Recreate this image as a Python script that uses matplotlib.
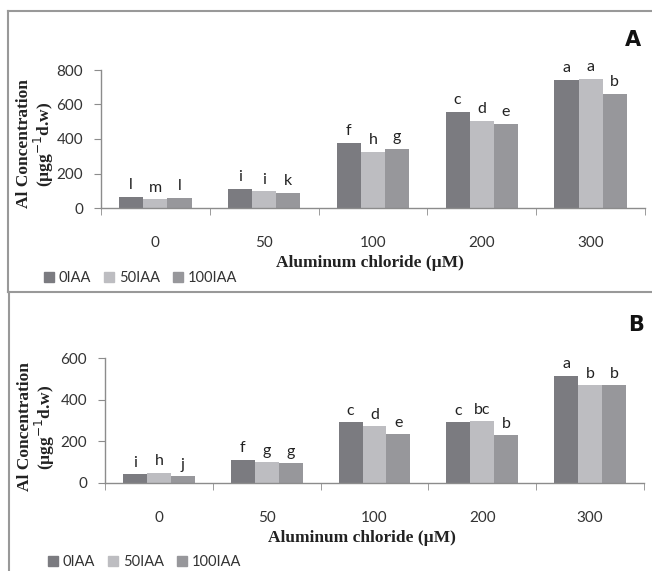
import matplotlib
matplotlib.use("Agg")
import matplotlib.pyplot as plt
import numpy as np
from matplotlib.patches import Rectangle
from matplotlib.lines import Line2D

categories = ["0", "50", "100", "200", "300"]
series = ["0IAA", "50IAA", "100IAA"]
colors = ["#7b7b80", "#bdbdc1", "#97979b"]

a_0iaa = [62, 111, 376, 555, 742]
a_50iaa = [50, 96, 326, 503, 746]
a_100iaa = [57, 87, 341, 488, 659]
a_letters = [["l", "i", "f", "c", "a"],
             ["m", "i", "h", "d", "a"],
             ["l", "k", "g", "e", "b"]]

b_0iaa = [43, 111, 291, 291, 515]
b_50iaa = [50, 100, 273, 298, 470]
b_100iaa = [34, 95, 235, 230, 470]
b_letters = [["i", "f", "c", "c", "a"],
             ["h", "g", "d", "bc", "b"],
             ["j", "g", "e", "b", "b"]]

a_ticks = [0, 200, 400, 600, 800]
b_ticks = [0, 200, 400, 600]

SANS = "Lato"
SERIF = "Liberation Serif"
axis_gray = "#8c8c8c"

fig = plt.figure(figsize=(6.52, 5.71), dpi=100)

# panel borders
fig.add_artist(Line2D([8/652, 8/652], [1-11/571, 1-292/571], transform=fig.transFigure, color="#999999", lw=1.5))
fig.add_artist(Line2D([8/652, 1.0], [1-11/571, 1-11/571], transform=fig.transFigure, color="#999999", lw=1.5))
fig.add_artist(Line2D([8/652, 1.0], [1-292/571, 1-292/571], transform=fig.transFigure, color="#999999", lw=1.5))
fig.add_artist(Line2D([9/652, 9/652], [1-292/571, 0.0], transform=fig.transFigure, color="#999999", lw=1.5))


def draw_panel(rect, vals, letters, ticks, ymax, label, label_xy, xlabel_xy, ylabel_xy, legend_xy):
    ax = fig.add_axes(rect)
    x = np.arange(len(categories))
    w = 0.222
    for i, v in enumerate(vals):
        pos = x + (i - 1) * w
        ax.bar(pos, v, width=w, color=colors[i], edgecolor="none", zorder=2)
        for p, val, t in zip(pos, v, letters[i]):
            ax.text(p, val + ymax * 0.035, t, ha="center", va="bottom",
                    fontsize=11.5, family=SANS, color="#222222", clip_on=False)
    ax.set_xlim(-0.5, len(categories) - 0.5)
    ax.set_ylim(0, ymax)
    ax.set_yticks(ticks)
    ax.set_yticklabels([str(t) for t in ticks], family=SANS, fontsize=11, color="#333333")
    ax.set_xticks(x)
    ax.set_xticklabels(categories, family=SANS, fontsize=11, color="#333333")
    ax.set_xticks(np.arange(-0.5, len(categories)), minor=True)
    ax.tick_params(axis="x", which="major", length=0, pad=20)
    ax.tick_params(axis="x", which="minor", length=5, color=axis_gray, direction="out")
    ax.tick_params(axis="y", length=5, color=axis_gray, direction="out", pad=8)
    for s in ["top", "right"]:
        ax.spines[s].set_visible(False)
    for s in ["left", "bottom"]:
        ax.spines[s].set_color(axis_gray)
        ax.spines[s].set_linewidth(1.0)
    ax.spines["left"].set_bounds(0, ticks[-1])
    fig.text(ylabel_xy[0], ylabel_xy[1], "Al Concentration\n(µgg$^{-1}$d.w)", family=SERIF,
             fontweight="bold", fontsize=12.5, linespacing=0.95, rotation=90,
             ha="center", va="center", color="#222222")
    fig.text(xlabel_xy[0], xlabel_xy[1], "Aluminum chloride (µM)", family=SERIF, fontweight="bold",
             fontsize=12.5, ha="center", va="center", color="#222222")
    fig.text(label_xy[0], label_xy[1], label, family="DejaVu Sans", fontweight="bold",
             fontsize=15, ha="center", va="center", color="#111111")
    lx, ly = legend_xy
    handles = [Rectangle((0, 0), 1, 1, color=c) for c in colors]
    leg = fig.legend(handles, series, loc="center left", bbox_to_anchor=(lx, ly), ncol=3,
                     frameon=False, prop={"family": SANS, "size": 10.5},
                     handlelength=0.7, handleheight=0.7, handletextpad=0.3,
                     columnspacing=0.9, borderaxespad=0, borderpad=0)
    for t in leg.get_texts():
        t.set_color("#333333")
    return ax


draw_panel([101/652, 1-208/571, 544/652, 138/571], [a_0iaa, a_50iaa, a_100iaa], a_letters,
           a_ticks, 800, "A", (633/652, 1-40/571), (370/652, 1-263/571), (36/652, 1-144/571),
           (44/652, 1-278/571))
draw_panel([105/652, 1-483/571, 539/652, 125/571], [b_0iaa, b_50iaa, b_100iaa], b_letters,
           b_ticks, 600, "B", (636/652, 1-325/571), (362/652, 1-538/571), (37/652, 1-427/571),
           (48/652, 1-562/571))

fig.savefig("out.png", dpi=100)
